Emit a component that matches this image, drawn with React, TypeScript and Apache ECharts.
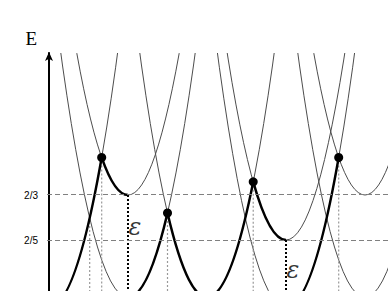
import React, { useEffect, useRef } from 'react';
import * as echarts from 'echarts';

// ---- data ----
const curvature = 2; // E = curvature * (u - centre)^2 + minimum
// lower family of parabolas (centre in flux units, minimum energy)
const lowerCenters = [0, 1, 2, 3, 4];
const lowerMinima = [0, 0.06, 0.06, 0, 0.06];
// upper parabolas with minima at the 2/3 and 2/5 levels
const upperCenters = [1, 3, 4];
const upperMinima = [2 / 3, 2 / 5, 2 / 3];
// thick path: curve index (0-4 lower, 5-7 upper), from u, to u
const thickCurve = [0, 5, 1, 2, 6, 3];
const thickFrom = [0, 0.667, 1, 1.5, 2.585, 3];
const thickTo = [0.667, 1, 1.5, 2.585, 3, 3.667];
// black dots at level crossings
const crossingU = [0.667, 1.5, 2.585, 3.667];
const crossingE = [0.889, 0.56, 0.745, 0.889];
// grey dotted guides (from crossing down)
const guideU = [0.515, 0.667, 1.5, 2.585, 3.667];
const guideTopE = [0.53, 0.889, 0.56, 0.745, 0.889];
// black dotted gap markers (from minimum down)
const gapU = [1, 3];
const gapTopE = [2 / 3, 2 / 5];
// epsilon labels
const epsU = [1, 3];
const epsE = [0.48, 0.225];
// tick levels
const levelValues = [2 / 3, 2 / 5];
const levelLabels = ['2/3', '2/5'];

const uMin = -0.0253;
const uMax = 4.2911;
const eMin = 0.09778;
const eMax = 1.50815;
const eTopDraw = 1.62;

const allCenters = [...lowerCenters, ...upperCenters];
const allMinima = [...lowerMinima, ...upperMinima];

function renderParabola(stroke: string, width: number) {
  return (params: any, api: any) => {
    const c = api.value(0);
    const m = api.value(1);
    const u1 = api.value(2);
    const u2 = api.value(3);
    const f = (u: number) => curvature * (u - c) * (u - c) + m;
    const p0 = api.coord([u1, f(u1)]);
    const p2 = api.coord([u2, f(u2)]);
    const cu = (u1 + u2) / 2;
    const ce = f(u1) + curvature * (u1 - c) * (u2 - u1);
    const p1 = api.coord([cu, ce]);
    return {
      type: 'bezierCurve',
      shape: { x1: p0[0], y1: p0[1], x2: p2[0], y2: p2[1], cpx1: p1[0], cpy1: p1[1] },
      style: { stroke, lineWidth: width, fill: 'none' },
    };
  };
}

function renderGuide(stroke: string, width: number, dash: number[]) {
  return (params: any, api: any) => {
    const top = api.coord([api.value(0), api.value(1)]);
    const bottom = api.coord([api.value(0), eMin - 0.05]);
    return {
      type: 'line',
      shape: { x1: top[0], y1: top[1], x2: bottom[0], y2: bottom[1] },
      style: { stroke, lineWidth: width, lineDash: dash },
    };
  };
}

export default function App() {
  const ref = useRef<HTMLDivElement>(null);
  useEffect(() => {
    if (!ref.current) return;
    const chart = echarts.init(ref.current, undefined, { renderer: 'svg' });

    const thinData = allCenters.map((c, i) => {
      const w = Math.sqrt((eTopDraw - allMinima[i]) / curvature);
      return [c, allMinima[i], c - w, c + w];
    });
    const thickData = thickCurve.map((ci, i) => [allCenters[ci], allMinima[ci], thickFrom[i], thickTo[i]]);

    chart.setOption({
      animation: false,
      backgroundColor: '#fff',
      grid: { left: 47, right: 0, top: 53, bottom: 0, containLabel: false },
      xAxis: { type: 'value', min: uMin, max: uMax, show: false },
      yAxis: {
        type: 'value',
        min: eMin,
        max: eMax,
        name: 'E',
        nameLocation: 'end',
        nameGap: 5,
        nameTextStyle: {
          fontFamily: 'Liberation Serif',
          fontSize: 19,
          color: '#000',
          align: 'right',
          verticalAlign: 'bottom',
          padding: [0, 12, 0, 0],
        },
        axisLine: {
          show: true,
          lineStyle: { color: '#000', width: 2 },
          symbol: ['none', 'arrow'],
          symbolSize: [6, 9],
          symbolOffset: [0, 1],
        },
        axisTick: { show: false },
        splitLine: { show: false },
        axisLabel: {
          customValues: levelValues,
          formatter: (v: number) => {
            const i = levelValues.findIndex((l) => Math.abs(l - v) < 1e-6);
            return i >= 0 ? levelLabels[i] : '';
          },
          fontFamily: 'Liberation Sans',
          fontSize: 10,
          color: '#000',
          margin: 9,
        },
      },
      series: [
        {
          type: 'custom',
          clip: true,
          z: 2,
          data: thinData,
          renderItem: renderParabola('#4d4d4d', 1),
          markLine: {
            silent: true,
            symbol: 'none',
            label: { show: false },
            lineStyle: { color: '#808080', width: 1.2, type: [5, 3] },
            data: levelValues.map((v) => ({ yAxis: v })),
          },
        },
        {
          type: 'custom',
          clip: true,
          z: 3,
          data: guideU.map((u, i) => [u, guideTopE[i]]),
          renderItem: renderGuide('#999', 1.2, [2, 2]),
        },
        {
          type: 'custom',
          clip: true,
          z: 3,
          data: gapU.map((u, i) => [u, gapTopE[i]]),
          renderItem: renderGuide('#000', 2, [2, 2]),
        },
        {
          type: 'custom',
          clip: true,
          z: 4,
          data: thickData,
          renderItem: renderParabola('#000', 2.5),
        },
        {
          type: 'scatter',
          z: 5,
          symbolSize: 9,
          itemStyle: { color: '#000', opacity: 1 },
          data: crossingU.map((u, i) => [u, crossingE[i]]),
        },
        {
          type: 'scatter',
          z: 5,
          symbolSize: 1,
          itemStyle: { color: 'rgba(0,0,0,0)' },
          label: {
            show: true,
            position: 'right',
            distance: 0,
            formatter: 'ε',
            fontFamily: 'DejaVu Serif',
            fontStyle: 'italic',
            fontSize: 24,
            color: '#000',
          },
          data: epsU.map((u, i) => [u, epsE[i]]),
        },
      ],
    });
    return () => chart.dispose();
  }, []);
  return (
    <div
      ref={ref}
      style={{ position: 'fixed', left: 0, top: 0, width: 388, height: 291, background: '#fff' }}
    />
  );
}
